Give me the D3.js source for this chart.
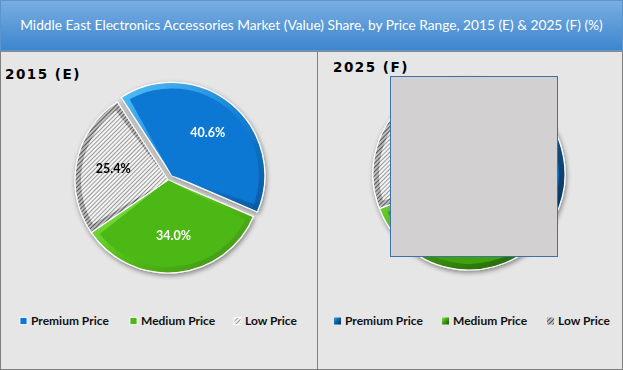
<!DOCTYPE html>
<html>
<head>
<meta charset="utf-8">
<script src="https://cdn.jsdelivr.net/npm/d3@7"></script>
<style>
  html, body { margin: 0; padding: 0; background: #fff; }
  svg { display: block; font-family: Lato, "Open Sans", sans-serif; }
</style>
</head>
<body>
<div id="chart"></div>
<script>
// share by price range
const categories = ['Premium Price', 'Medium Price', 'Low Price'];
const share2015 = [40.6, 34.0, 25.4];
const share2025 = [41.7, 36.6, 21.7]; // mostly hidden behind the grey box, estimated from the visible rim
const panelTitles = ['2015 (E)', '2025 (F)'];
const chartTitle = 'Middle East Electronics Accessories Market (Value) Share, by Price Range, 2015 (E) & 2025 (F) (%)';

const W = 623, H = 370;
const svg = d3.select('#chart').append('svg').attr('width', W).attr('height', H);
const defs = svg.append('defs');

// header gradient
const hg = defs.append('linearGradient').attr('id', 'hdr').attr('x1', 0).attr('y1', 0).attr('x2', 0).attr('y2', 1);
hg.append('stop').attr('offset', 0).attr('stop-color', '#79aee2');
hg.append('stop').attr('offset', 1).attr('stop-color', '#3d85ce');

// hatch for low price
const hatch = defs.append('pattern').attr('id', 'hatch').attr('patternUnits', 'userSpaceOnUse')
  .attr('width', 3).attr('height', 3).attr('patternTransform', 'rotate(45)');
hatch.append('rect').attr('width', 3).attr('height', 3).attr('fill', '#f4f4f4');
hatch.append('rect').attr('width', 1).attr('height', 3).attr('fill', '#9a9a9a');
const hatchDark = defs.append('pattern').attr('id', 'hatchDark').attr('patternUnits', 'userSpaceOnUse')
  .attr('width', 3).attr('height', 3).attr('patternTransform', 'rotate(45)');
hatchDark.append('rect').attr('width', 3).attr('height', 3).attr('fill', '#bdbdbd');
hatchDark.append('rect').attr('width', 1).attr('height', 3).attr('fill', '#555');

const shadow = defs.append('filter').attr('id', 'shadow').attr('x', '-20%').attr('y', '-20%').attr('width', '140%').attr('height', '140%');
shadow.append('feGaussianBlur').attr('in', 'SourceAlpha').attr('stdDeviation', 2.5).attr('result', 'b');
shadow.append('feOffset').attr('in', 'b').attr('dx', 1).attr('dy', 2).attr('result', 'o');
shadow.append('feComponentTransfer').attr('in', 'o').attr('result', 's')
  .append('feFuncA').attr('type', 'linear').attr('slope', 0.45);
const fm = shadow.append('feMerge');
fm.append('feMergeNode').attr('in', 's');
fm.append('feMergeNode').attr('in', 'SourceGraphic');

// rim gradients: light top-left, dark bottom-right
function rimGrad(id, c1, c2, c3) {
  const g = defs.append('linearGradient').attr('id', id).attr('x1', 0).attr('y1', 0).attr('x2', 1).attr('y2', 1);
  g.append('stop').attr('offset', 0).attr('stop-color', c1);
  g.append('stop').attr('offset', 0.5).attr('stop-color', c2);
  g.append('stop').attr('offset', 1).attr('stop-color', c3);
}
rimGrad('rimB1', '#55c0f7', '#1a84d8', '#0458a0');
rimGrad('rimG1', '#8ef55a', '#55bd1a', '#3c8c10');
rimGrad('rimB2', '#3a9be0', '#0f5fa0', '#053258');
rimGrad('rimG2', '#7de83e', '#3e9a12', '#1f5506');

const styles = [
  { face: ['#0a78d4', '#0a6fc6'], rim: ['url(#rimB1)', 'url(#rimB2)'], label: '#fff' },
  { face: ['#4cb812', '#3fa00e'], rim: ['url(#rimG1)', 'url(#rimG2)'], label: '#fff' },
  { face: ['url(#hatch)', 'url(#hatch)'], rim: ['url(#hatchDark)', 'url(#hatchDark)'], label: '#000' }
];

// frame and header
svg.append('rect').attr('x', 0.5).attr('y', 0.5).attr('width', W - 1).attr('height', H - 1)
  .attr('fill', '#e6e6e6').attr('stroke', '#7f7f7f');
svg.append('rect').attr('x', 0.5).attr('y', 0.5).attr('width', W - 1).attr('height', 50)
  .attr('fill', 'url(#hdr)').attr('stroke', '#5b95cf');
svg.append('line').attr('x1', 0).attr('x2', W).attr('y1', 51.5).attr('y2', 51.5).attr('stroke', '#8a8a8a');
svg.append('line').attr('x1', 317.5).attr('x2', 317.5).attr('y1', 52).attr('y2', H).attr('stroke', '#7f7f7f');

const title = svg.append('text').attr('x', 311.5).attr('y', 30).attr('text-anchor', 'middle')
  .attr('fill', '#fff').attr('font-size', 13).text(chartTitle);
const tw = title.node().getComputedTextLength();
title.attr('font-size', 13 * 583 / tw);

const pie = d3.pie().sort(null).value(d => d).startAngle(-33 * Math.PI / 180).endAngle((360 - 33) * Math.PI / 180);

const panels = [
  { data: share2015, cx: 168, cy: 180, r: 93, tx: 5, ty: 79, legendX: [20, 130, 234], explode: 6 },
  { data: share2025, cx: 469, cy: 174, r: 96, tx: 333, ty: 72, legendX: [334, 442, 547], explode: 0 }
];

panels.forEach((p, pi) => {
  svg.append('text').attr('x', p.tx).attr('y', p.ty).attr('font-size', 13.5).attr('font-weight', 'bold')
    .attr('font-family', '"DejaVu Sans", sans-serif')
    .attr('letter-spacing', 1.5).attr('fill', '#000').text(panelTitles[pi]);

  const arcs = pie(p.data);
  const rim = d3.arc().innerRadius(0).outerRadius(p.r);
  const face = d3.arc().innerRadius(0).outerRadius(p.r - 6).padAngle(12 / p.r).padRadius(p.r);
  const lab = d3.arc().innerRadius(p.r * 0.6).outerRadius(p.r * 0.6);

  const g = svg.append('g').attr('transform', `translate(${p.cx},${p.cy})`).attr('filter', 'url(#shadow)');
  const sl = g.selectAll('g.slice').data(arcs).join('g').attr('class', 'slice')
    .attr('transform', (d, i) => {
      if (i !== 0 || !p.explode) return null;
      const m = (d.startAngle + d.endAngle) / 2;
      return `translate(${Math.sin(m) * p.explode},${-Math.cos(m) * p.explode})`;
    });
  sl.append('path').attr('d', rim).attr('fill', (d, i) => styles[i].rim[pi])
    .attr('stroke', '#fff').attr('stroke-width', 1.2).attr('stroke-linejoin', 'round');
  sl.append('path').attr('d', face).attr('fill', (d, i) => styles[i].face[pi]);
  sl.append('text').attr('transform', d => `translate(${lab.centroid(d)})`)
    .attr('text-anchor', 'middle').attr('dy', '0.35em')
    .attr('font-size', 12.5).attr('font-weight', 'bold')
    .attr('fill', (d, i) => styles[i].label)
    .text(d => d3.format('.1f')(d.data) + '%');

  // legend
  const lg = svg.selectAll(null).data(categories).join('g')
    .attr('transform', (d, i) => `translate(${p.legendX[i]},${321})`);
  lg.append('rect').attr('x', 0).attr('y', -3.5).attr('width', 7).attr('height', 7)
    .attr('fill', (d, i) => pi === 0 ? styles[i].face[0] : styles[i].rim[1])
    .attr('stroke', pi === 0 ? '#fff' : 'none').attr('stroke-width', 0.8);
  lg.append('text').attr('x', 11).attr('dy', '0.36em').attr('font-size', 12).attr('font-weight', 'bold')
    .attr('fill', '#111').text(d => d);
});

// grey box covering the 2025 pie in the source picture
svg.append('rect').attr('x', 390.5).attr('y', 76.5).attr('width', 167).attr('height', 180)
  .attr('fill', '#d2d0d1').attr('stroke', '#3f70a6');
</script>
</body>
</html>
